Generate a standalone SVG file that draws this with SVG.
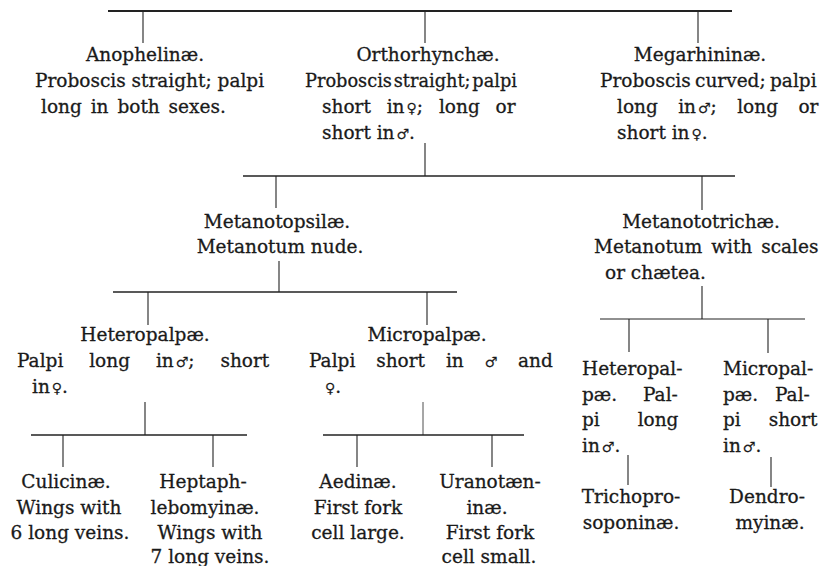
<svg xmlns="http://www.w3.org/2000/svg" width="822" height="566" viewBox="0 0 822 566">
<style>
.t{font-family:"DejaVu Serif","Liberation Serif",serif;font-size:18.5px;fill:#1a1a1a;stroke:#1a1a1a;stroke-width:0.3}
.c{text-anchor:middle}
.s{font-family:"DejaVu Sans",sans-serif;font-size:14px;stroke-width:0.2}
.ln{stroke:#222;stroke-width:1.3;fill:none}
.tk{stroke:#222;stroke-width:1.1;fill:none}
</style>
<rect width="822" height="566" fill="#ffffff"/>
<g id="connectors">
<line class="ln" x1="108" y1="11" x2="732" y2="11" style="stroke-width:2"/>
<line class="tk" x1="143" y1="12" x2="143" y2="43"/>
<line class="tk" x1="425" y1="12" x2="425" y2="43"/>
<line class="tk" x1="698" y1="12" x2="698" y2="43"/>
<line class="tk" x1="425" y1="143" x2="425" y2="176"/>
<line class="ln" x1="243" y1="176" x2="735" y2="176"/>
<line class="tk" x1="276" y1="176" x2="276" y2="208"/>
<line class="tk" x1="702" y1="176" x2="702" y2="210"/>
<line class="tk" x1="279" y1="261" x2="279" y2="292"/>
<line class="ln" x1="113" y1="292" x2="457" y2="292" style="stroke-width:1.6"/>
<line class="tk" x1="148" y1="292" x2="148" y2="325"/>
<line class="tk" x1="427" y1="292" x2="427" y2="325"/>
<line class="tk" x1="702" y1="286" x2="702" y2="319"/>
<line class="ln" x1="600" y1="319" x2="805" y2="319" style="stroke-width:1.1"/>
<line class="tk" x1="629" y1="319" x2="629" y2="352"/>
<line class="tk" x1="768" y1="319" x2="768" y2="353"/>
<line class="tk" x1="145" y1="402" x2="145" y2="435"/>
<line class="tk" x1="423" y1="402" x2="423" y2="435" style="stroke-width:0.8"/>
<line class="ln" x1="31" y1="435" x2="247" y2="435"/>
<line class="ln" x1="323" y1="435" x2="524" y2="435"/>
<line class="tk" x1="63" y1="435" x2="63" y2="467"/>
<line class="tk" x1="213" y1="435" x2="213" y2="467"/>
<line class="tk" x1="357" y1="435" x2="357" y2="467"/>
<line class="tk" x1="492" y1="435" x2="492" y2="467"/>
<line class="tk" x1="628" y1="455" x2="628" y2="485"/>
<line class="tk" x1="771" y1="457" x2="771" y2="487"/>
</g>
<g id="anophelinae">
<text class="t c" x="145" y="61">Anophelinæ.</text>
<text class="t" x="35" y="87">Proboscis straight; palpi</text>
<text class="t" x="41" y="113" word-spacing="3">long in both sexes.</text>
</g>
<g id="orthorhynchae">
<text class="t c" x="428" y="61">Orthorhynchæ.</text>
<text class="t" x="305" y="87" textLength="212" lengthAdjust="spacingAndGlyphs" word-spacing="-4">Proboscis straight; palpi</text>
<text class="t" x="322" y="113" word-spacing="10">short in<tspan class="s" dx="2">♀</tspan>; long or</text>
<text class="t" x="322" y="139">short in<tspan class="s" dx="2">♂</tspan>.</text>
</g>
<g id="megarhininae">
<text class="t c" x="700" y="61">Megarhininæ.</text>
<text class="t" x="600" y="87" word-spacing="-1.5">Proboscis curved; palpi</text>
<text class="t" x="617" y="113" word-spacing="14.5">long in<tspan class="s" dx="2">♂</tspan>; long or</text>
<text class="t" x="617" y="139">short in<tspan class="s" dx="2">♀</tspan>.</text>
</g>
<g id="metanotopsilae">
<text class="t c" x="277" y="228">Metanotopsilæ.</text>
<text class="t c" x="280" y="253">Metanotum nude.</text>
</g>
<g id="metanototrichae">
<text class="t c" x="701" y="228">Metanototrichæ.</text>
<text class="t" x="594" y="253" word-spacing="3">Metanotum with scales</text>
<text class="t" x="605" y="279">or chætea.</text>
</g>
<g id="heteropalpae">
<text class="t c" x="145" y="341">Heteropalpæ.</text>
<text class="t" x="17" y="367" word-spacing="20">Palpi long in<tspan class="s" dx="2">♂</tspan>; short</text>
<text class="t" x="32" y="393">in<tspan class="s" dx="2">♀</tspan>.</text>
</g>
<g id="micropalpae">
<text class="t c" x="427" y="341">Micropalpæ.</text>
<text class="t" x="309" y="367" word-spacing="15">Palpi short in <tspan class="s">♂</tspan> and</text>
<text class="t" x="325" y="393"><tspan class="s">♀</tspan>.</text>
</g>
<g id="heteropalpae-2">
<text class="t" x="582" y="375">Heteropal-</text>
<text class="t" x="582" y="401" word-spacing="20">pæ. Pal-</text>
<text class="t" x="582" y="426" word-spacing="32">pi long</text>
<text class="t" x="582" y="452">in<tspan class="s" dx="2">♂</tspan>.</text>
</g>
<g id="micropalpae-2">
<text class="t" x="723" y="375">Micropal-</text>
<text class="t" x="723" y="401" word-spacing="11">pæ. Pal-</text>
<text class="t" x="723" y="426" word-spacing="22">pi short</text>
<text class="t" x="723" y="452">in<tspan class="s" dx="2">♂</tspan>.</text>
</g>
<g id="culicinae">
<text class="t c" x="66" y="488">Culicinæ.</text>
<text class="t c" x="69" y="514">Wings with</text>
<text class="t c" x="70" y="539">6 long veins.</text>
</g>
<g id="heptaphlebomyinae">
<text class="t c" x="203" y="488">Heptaph-</text>
<text class="t c" x="205" y="514">lebomyinæ.</text>
<text class="t c" x="210" y="539">Wings with</text>
<text class="t c" x="210" y="563">7 long veins.</text>
</g>
<g id="aedinae">
<text class="t c" x="358" y="488">Aedinæ.</text>
<text class="t c" x="358" y="514">First fork</text>
<text class="t c" x="358" y="539">cell large.</text>
</g>
<g id="uranotaeniinae">
<text class="t c" x="490" y="488">Uranotæn-</text>
<text class="t c" x="487" y="514">inæ.</text>
<text class="t c" x="490" y="539">First fork</text>
<text class="t c" x="489" y="563">cell small.</text>
</g>
<g id="trichoprosoponinae">
<text class="t c" x="631" y="503">Trichopro-</text>
<text class="t c" x="631" y="529">soponinæ.</text>
</g>
<g id="dendromyinae">
<text class="t c" x="767" y="503">Dendro-</text>
<text class="t c" x="770" y="529">myinæ.</text>
</g>
</svg>
